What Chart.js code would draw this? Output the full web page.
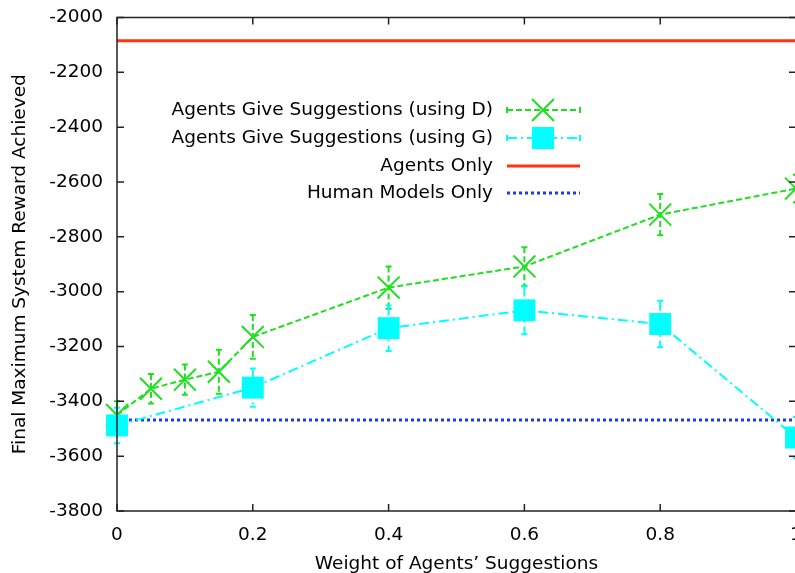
<!DOCTYPE html>
<html><head><meta charset="utf-8">
<script src="https://cdn.jsdelivr.net/npm/chart.js@4"></script>
<style>
html,body{margin:0;padding:0;background:#fff;overflow:hidden;}
#wrap{width:795px;height:573px;overflow:hidden;position:relative;background:#fff;}
canvas{position:absolute;left:0;top:0;}
</style></head><body>
<div id="wrap"><canvas id="c" width="830" height="573"></canvas></div>
<script>
// ---- data ----
const weightsD = [0, 0.05, 0.1, 0.15, 0.2, 0.4, 0.6, 0.8, 1.0];
const rewardD  = [-3450, -3354, -3321, -3292, -3165, -2985, -2908, -2719, -2624];
const errD     = [50, 54, 55, 80, 80, 77, 70, 75, 50];
const weightsG = [0, 0.2, 0.4, 0.6, 0.8, 1.0];
const rewardG  = [-3488, -3350, -3133, -3068, -3118, -3532];
const errG     = [65, 70, 83, 87, 85, 75];
const agentsOnly = -2085;
const humanOnly  = -3468;
const xLimits = [0, 1];
const yLimits = [-3800, -2000];
const labelD = 'Agents Give Suggestions (using D)';
const labelG = 'Agents Give Suggestions (using G)';
const labelA = 'Agents Only';
const labelH = 'Human Models Only';
const xTitle = 'Weight of Agents\u2019 Suggestions';
const yTitle = 'Final Maximum System Reward Achieved';

const FONT = '"DejaVu Sans", Verdana, sans-serif';
const FSIZE = 18.5;
const GREEN = '#1ee01e', CYAN = '#00ffff', RED = '#ff3311', BLUE = '#1a3ce8';
const dashD = [6, 3], dashG = [10, 4, 2, 4], dashH = [3, 3];

const errSeries = [
  {xs: weightsD, ys: rewardD, es: errD, color: GREEN, dash: dashD},
  {xs: weightsG, ys: rewardG, es: errG, color: CYAN, dash: dashG}
];

const errorBars = {
  id: 'errorBars',
  beforeDatasetsDraw(chart) {
    const {ctx, scales: {x, y}} = chart;
    ctx.save();
    errSeries.forEach(s => {
      ctx.strokeStyle = s.color;
      ctx.lineWidth = 2;
      s.xs.forEach((xv, i) => {
        const px = x.getPixelForValue(xv);
        const top = y.getPixelForValue(s.ys[i] + s.es[i]);
        const bot = y.getPixelForValue(s.ys[i] - s.es[i]);
        ctx.setLineDash(s.dash);
        ctx.beginPath(); ctx.moveTo(px, top); ctx.lineTo(px, bot); ctx.stroke();
        ctx.setLineDash([]);
        ctx.beginPath();
        ctx.moveTo(px - 3, top); ctx.lineTo(px + 3, top);
        ctx.moveTo(px - 3, bot); ctx.lineTo(px + 3, bot);
        ctx.stroke();
      });
    });
    ctx.restore();
  }
};

const frame = {
  id: 'frame',
  afterDatasetsDraw(chart) {
    const {ctx, chartArea: a, scales: {x, y}} = chart;
    ctx.save();
    ctx.strokeStyle = '#222';
    ctx.lineWidth = 1.5;
    ctx.setLineDash([]);
    ctx.strokeRect(a.left, a.top, a.right - a.left, a.bottom - a.top);
    ctx.beginPath();
    const tl = 7;
    x.ticks.forEach(t => {
      const px = x.getPixelForValue(t.value);
      ctx.moveTo(px, a.bottom); ctx.lineTo(px, a.bottom - tl);
      ctx.moveTo(px, a.top); ctx.lineTo(px, a.top + tl);
    });
    y.ticks.forEach(t => {
      const py = y.getPixelForValue(t.value);
      ctx.moveTo(a.left, py); ctx.lineTo(a.left + tl, py);
      ctx.moveTo(a.right, py); ctx.lineTo(a.right - tl, py);
    });
    ctx.stroke();
    ctx.restore();
  }
};

const keyBox = {
  id: 'keyBox',
  afterDraw(chart) {
    const {ctx} = chart;
    const textX = 493, x0 = 507, x1 = 580, mx = 543;
    const rows = [
      {label: labelD, y: 110, color: GREEN, dash: dashD, w: 2, mark: 'x', err: true},
      {label: labelG, y: 138, color: CYAN, dash: dashG, w: 2, mark: 'sq', err: true},
      {label: labelA, y: 166, color: RED, dash: [], w: 3},
      {label: labelH, y: 193, color: BLUE, dash: dashH, w: 3}
    ];
    ctx.save();
    ctx.font = FSIZE + 'px ' + FONT;
    ctx.textAlign = 'right';
    ctx.textBaseline = 'middle';
    rows.forEach(r => {
      ctx.fillStyle = '#000';
      ctx.fillText(r.label, textX, r.y);
      ctx.strokeStyle = r.color;
      ctx.lineWidth = r.w;
      ctx.setLineDash(r.dash);
      ctx.beginPath(); ctx.moveTo(x0, r.y); ctx.lineTo(x1, r.y); ctx.stroke();
      ctx.setLineDash([]);
      if (r.err) {
        ctx.lineWidth = 2;
        ctx.beginPath();
        ctx.moveTo(x0, r.y - 3); ctx.lineTo(x0, r.y + 3);
        ctx.moveTo(x1, r.y - 3); ctx.lineTo(x1, r.y + 3);
        ctx.stroke();
      }
      if (r.mark === 'x') {
        ctx.lineWidth = 2;
        ctx.beginPath();
        ctx.moveTo(mx - 11, r.y - 11); ctx.lineTo(mx + 11, r.y + 11);
        ctx.moveTo(mx - 11, r.y + 11); ctx.lineTo(mx + 11, r.y - 11);
        ctx.stroke();
      } else if (r.mark === 'sq') {
        ctx.fillStyle = r.color;
        ctx.fillRect(mx - 11, r.y - 11, 22, 22);
      }
    });
    ctx.restore();
  }
};

const toPts = (xs, ys) => xs.map((v, i) => ({x: v, y: ys[i]}));

new Chart(document.getElementById('c'), {
  type: 'scatter',
  data: {
    datasets: [
      {label: labelG, data: toPts(weightsG, rewardG), showLine: true, order: 0, clip: false,
       borderColor: CYAN, borderWidth: 2, borderDash: dashG,
       pointStyle: 'rect', pointRadius: 15.5, pointBackgroundColor: CYAN, pointBorderColor: CYAN, pointBorderWidth: 0},
      {label: labelH, data: toPts(xLimits, [humanOnly, humanOnly]), showLine: true, order: 1, clip: false,
       borderColor: BLUE, borderWidth: 3, borderDash: dashH, pointRadius: 0},
      {label: labelD, data: toPts(weightsD, rewardD), showLine: true, order: 2, clip: false,
       borderColor: GREEN, borderWidth: 2, borderDash: dashD,
       pointStyle: 'crossRot', pointRadius: 15.5, pointBorderColor: GREEN, pointBackgroundColor: GREEN, pointBorderWidth: 2},
      {label: labelA, data: toPts(xLimits, [agentsOnly, agentsOnly]), showLine: true, order: 3, clip: false,
       borderColor: RED, borderWidth: 3, pointRadius: 0}
    ]
  },
  options: {
    responsive: false,
    animation: false,
    events: [],
    layout: {padding: {top: 15, left: 0, right: 34, bottom: 0}},
    plugins: {legend: {display: false}, tooltip: {enabled: false}},
    scales: {
      x: {
        type: 'linear', min: xLimits[0], max: xLimits[1],
        ticks: {stepSize: 0.2, color: '#000', font: {family: FONT, size: FSIZE}, padding: 13,
                maxRotation: 0, callback: v => String(+v.toFixed(1))},
        grid: {display: false, drawTicks: false},
        border: {display: false},
        title: {display: true, text: xTitle, color: '#000', font: {family: FONT, size: FSIZE}, padding: {top: 0, bottom: -2}},
        afterFit: s => { s.height = 62; s.paddingLeft = 0; s.paddingRight = 0; }
      },
      y: {
        type: 'linear', min: yLimits[0], max: yLimits[1],
        ticks: {stepSize: 200, color: '#000', font: {family: FONT, size: FSIZE}, padding: 14,
                callback: v => String(v)},
        grid: {display: false, drawTicks: false},
        border: {display: false},
        title: {display: true, text: yTitle, color: '#000', font: {family: FONT, size: FSIZE}, padding: {top: 9, bottom: 0}},
        afterFit: s => { s.width = 117; s.paddingTop = 0; s.paddingBottom = 0; }
      }
    }
  },
  plugins: [errorBars, frame, keyBox]
});
</script>
</body></html>
